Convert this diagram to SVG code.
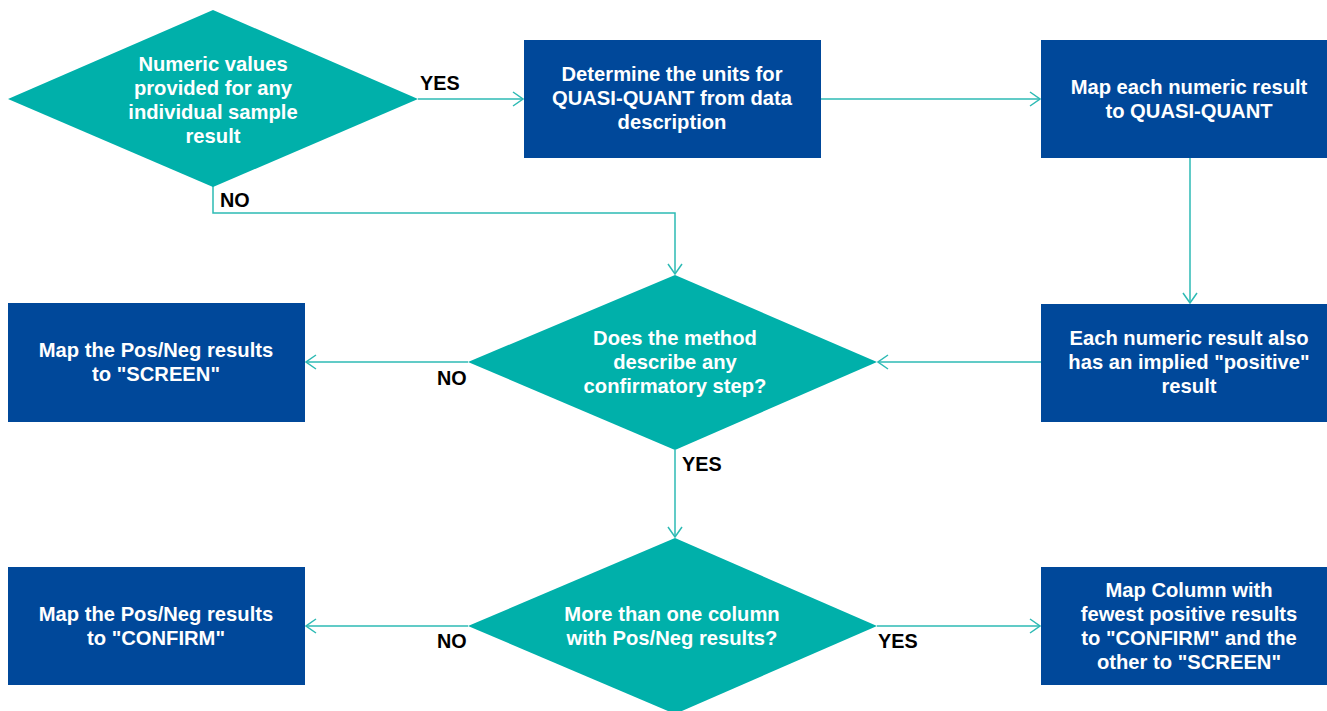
<svg xmlns="http://www.w3.org/2000/svg" width="1327" height="711" viewBox="0 0 1327 711">
  <style>
    .decision { fill: #00b0aa; }
    .process { fill: #00489a; }
    .node-text { font-family: "Liberation Sans", Arial, sans-serif; font-weight: bold; font-size: 20.2px; fill: #ffffff; text-anchor: middle; }
    .label { font-family: "Liberation Sans", Arial, sans-serif; font-weight: bold; font-size: 19.8px; fill: #000000; }
    .edge { fill: none; stroke: #2dbab4; stroke-width: 1.5; marker-end: url(#chevron); }
  </style>
  <defs>
    <marker id="chevron" viewBox="0 0 12 16" refX="11" refY="8" markerWidth="12" markerHeight="16" markerUnits="userSpaceOnUse" orient="auto">
      <path d="M1,1 L11,8 L1,15" fill="none" stroke="#2dbab4" stroke-width="1.5"/>
    </marker>
  </defs>

  <rect width="1327" height="711" fill="#ffffff"/>

  <!-- connectors -->
  <g id="connectors">
    <path class="edge" d="M418,99 H523"/>
    <path class="edge" d="M821,99 H1040"/>
    <path class="edge" d="M1190,158 V303"/>
    <path class="edge" d="M1041,362 H878"/>
    <path class="edge" d="M213,186 V213 H675 V274"/>
    <path class="edge" d="M468,362 H306"/>
    <path class="edge" d="M675,450 V537"/>
    <path class="edge" d="M468,626 H306"/>
    <path class="edge" d="M877,626 H1040"/>
  </g>

  <!-- branch labels -->
  <g id="labels">
    <text class="label" x="420" y="90">YES</text>
    <text class="label" x="220" y="207">NO</text>
    <text class="label" x="437" y="385">NO</text>
    <text class="label" x="682" y="471">YES</text>
    <text class="label" x="437" y="648">NO</text>
    <text class="label" x="878" y="648">YES</text>
  </g>

  <g id="numeric-values">
    <polygon class="decision" points="213,10 418,99 213,187 8,99"/>
    <text class="node-text" x="213" y="71">Numeric values</text>
    <text class="node-text" x="213" y="95">provided for any</text>
    <text class="node-text" x="213" y="119">individual sample</text>
    <text class="node-text" x="213" y="143">result</text>
  </g>

  <g id="determine-units">
    <rect class="process" x="524" y="40" width="297" height="118"/>
    <text class="node-text" x="672" y="81">Determine the units for</text>
    <text class="node-text" x="672" y="105">QUASI-QUANT from data</text>
    <text class="node-text" x="672" y="129">description</text>
  </g>

  <g id="map-numeric">
    <rect class="process" x="1041" y="40" width="286" height="118"/>
    <text class="node-text" x="1189" y="94">Map each numeric result</text>
    <text class="node-text" x="1189" y="118">to QUASI-QUANT</text>
  </g>

  <g id="implied-positive">
    <rect class="process" x="1041" y="304" width="286" height="118"/>
    <text class="node-text" x="1189" y="345">Each numeric result also</text>
    <text class="node-text" x="1189" y="369">has an implied "positive"</text>
    <text class="node-text" x="1189" y="393">result</text>
  </g>

  <g id="confirmatory-step">
    <polygon class="decision" points="675,275 877,362 675,450 468,362"/>
    <text class="node-text" x="675" y="345">Does the method</text>
    <text class="node-text" x="675" y="369">describe any</text>
    <text class="node-text" x="675" y="393">confirmatory step?</text>
  </g>

  <g id="map-screen">
    <rect class="process" x="8" y="303" width="297" height="119"/>
    <text class="node-text" x="156" y="357">Map the Pos/Neg results</text>
    <text class="node-text" x="156" y="381">to "SCREEN"</text>
  </g>

  <g id="multiple-columns">
    <polygon class="decision" points="675,538 877,626 675,714 468,626"/>
    <text class="node-text" x="672" y="621">More than one column</text>
    <text class="node-text" x="672" y="645">with Pos/Neg results?</text>
  </g>

  <g id="map-confirm">
    <rect class="process" x="8" y="567" width="297" height="118"/>
    <text class="node-text" x="156" y="621">Map the Pos/Neg results</text>
    <text class="node-text" x="156" y="645">to "CONFIRM"</text>
  </g>

  <g id="map-fewest">
    <rect class="process" x="1041" y="567" width="286" height="118"/>
    <text class="node-text" x="1189" y="597">Map Column with</text>
    <text class="node-text" x="1189" y="621">fewest positive results</text>
    <text class="node-text" x="1189" y="645">to "CONFIRM" and the</text>
    <text class="node-text" x="1189" y="669">other to "SCREEN"</text>
  </g>
</svg>
